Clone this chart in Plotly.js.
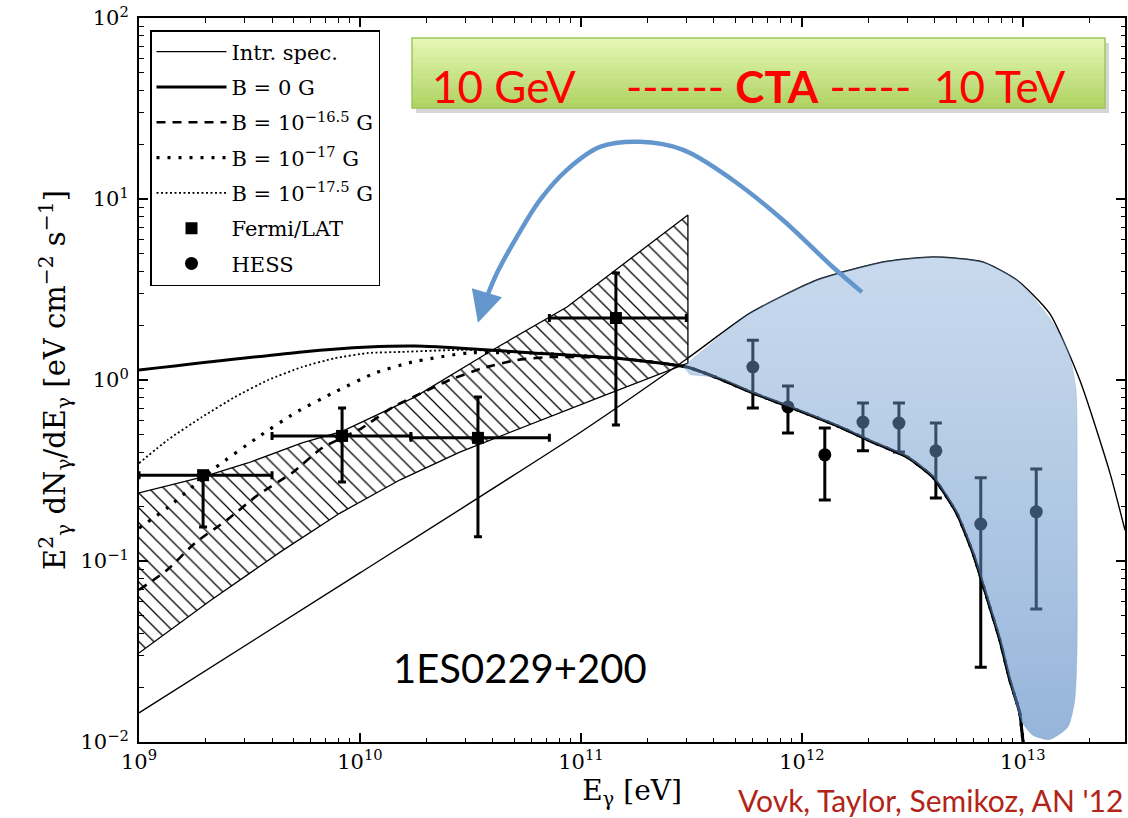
<!DOCTYPE html>
<html><head><meta charset="utf-8">
<script src="https://cdn.plot.ly/plotly-3.0.1.min.js"></script>
<style>html,body{margin:0;padding:0;background:#fff}#plot{width:1128px;height:818px}</style>
</head><body><div id="plot"></div>
<script>
// ---------------- data ----------------
const intrE = [1e9, 1e10, 1e11, 3.02e11, 5.82e11, 1.17e12, 2.33e12, 3.92e12, 6.59e12, 9.4e12, 1.32e13, 1.81e13, 2.48e13, 2.9e13];
const intrF = [0.0145, 0.0859, 0.516, 1.31, 2.34, 3.57, 4.49, 4.78, 4.49, 3.57, 2.34, 1.0, 0.306, 0.148];

const bandUpperE = [1e9, 1.93e9, 3.11e9, 5.47e9, 8.3e9, 1.77e10, 4.0e10, 8.65e10, 3.05e11];
const bandUpperF = [0.238, 0.291, 0.348, 0.449, 0.52, 0.805, 1.47, 2.53, 8.17];
const bandLowerE = [1e9, 2.09e9, 4.35e9, 8.13e9, 1.52e10, 2.83e10, 5.3e10, 1.22e11, 3.05e11];
const bandLowerF = [0.031, 0.0601, 0.112, 0.184, 0.281, 0.400, 0.543, 0.805, 1.24];

// common high-energy part of the cascade curves
const tailE = [4.12e11, 6.0e11, 8.83e11, 1.49e12, 2.09e12, 2.99e12, 3.92e12, 5.02e12, 5.94e12, 6.87e12, 7.87e12, 8.73e12, 9.68e12, 1.0e13, 1.02e13];
const tailF = [1.03, 0.848, 0.709, 0.550, 0.454, 0.376, 0.291, 0.184, 0.111, 0.0632, 0.0366, 0.0220, 0.0145, 0.0103, 0.009];

const b0E = [1e9, 5.47e9, 1.09e10, 1.77e10, 3.38e10, 6.07e10, 1.46e11, 3.02e11];
const b0F = [1.135, 1.43, 1.52, 1.54, 1.48, 1.41, 1.32, 1.18];
const b165E = [1e9, 1.34e9, 1.79e9, 2.5e9, 3.45e9, 4.92e9, 6.73e9, 1.02e10, 1.41e10, 2.55e10, 3.61e10, 5.13e10, 7.24e10, 1.46e11, 3.02e11];
const b165F = [0.0692, 0.0891, 0.1256, 0.1685, 0.2317, 0.306, 0.421, 0.543, 0.709, 1.0, 1.165, 1.29, 1.34, 1.32, 1.18];
const b17E = [1e9, 1.34e9, 2.21e9, 3.42e9, 5.08e9, 7.71e9, 1.17e10, 1.72e10, 3.05e10, 6.07e10, 1.46e11, 3.02e11];
const b17F = [0.152, 0.196, 0.327, 0.479, 0.658, 0.859, 1.094, 1.256, 1.41, 1.41, 1.32, 1.18];
const b175E = [1e9, 1.35e9, 1.93e9, 2.72e9, 3.84e9, 5.47e9, 7.71e9, 1.09e10, 1.55e10, 3.05e10, 6.07e10, 1.46e11, 3.02e11];
const b175F = [0.347, 0.467, 0.625, 0.806, 1.0, 1.18, 1.32, 1.41, 1.43, 1.47, 1.41, 1.32, 1.18];

const fermiE = [1.95e9, 8.3e9, 3.42e10, 1.44e11];
const fermiElo = [1e9, 4.0e9, 1.7e10, 7.2e10];
const fermiEhi = [4.0e9, 1.7e10, 7.2e10, 3.0e11];
const fermiF = [0.298, 0.491, 0.479, 2.2];
const fermiFlo = [0.154, 0.273, 0.136, 0.564];
const fermiFhi = [0.298, 0.70, 0.805, 3.9];

const hessE = [6.0e11, 8.65e11, 1.27e12, 1.89e12, 2.75e12, 4.04e12, 6.45e12, 1.15e13];
const hessF = [1.18, 0.71, 0.386, 0.586, 0.578, 0.406, 0.160, 0.187];
const hessFlo = [0.70, 0.509, 0.217, 0.406, 0.400, 0.223, 0.0259, 0.0543];
const hessFhi = [1.66, 0.927, 0.543, 0.746, 0.746, 0.578, 0.288, 0.322];

// CTA highlight region (overlay drawn on the original figure)
const blobE = [2.90e11, 5.82e11, 1.17e12, 2.33e12, 3.92e12, 6.59e12, 9.4e12, 1.32e13, 1.60e13, 1.74e13, 1.76e13, 1.76e13, 1.72e13, 1.60e13, 1.32e13, 1.11e13, 9.9e12,
               8.73e12, 7.87e12, 6.87e12, 5.94e12, 5.02e12, 3.92e12, 2.99e12, 2.09e12, 1.49e12, 8.83e11, 6.0e11, 4.12e11, 3.11e11];
const blobF = [1.18, 2.34, 3.57, 4.49, 4.78, 4.49, 3.57, 2.2, 1.47, 0.881, 0.217, 0.0322, 0.0171, 0.0121, 0.0103, 0.0109, 0.0129,
               0.0220, 0.0366, 0.0632, 0.111, 0.184, 0.291, 0.376, 0.454, 0.550, 0.709, 0.848, 1.03, 1.07];

// curved arrow
const arrowE = [1.87e12, 1.38e12, 8.2e11, 4.88e11, 2.90e11, 1.85e11, 1.22e11, 8.65e10, 6.52e10, 5.13e10, 4.17e10, 3.56e10];
const arrowF = [3.06, 4.21, 7.66, 12.7, 18.7, 20.7, 19.4, 14.5, 9.86, 6.17, 3.90, 2.44];
const arrowHeadE = 3.42e10, arrowHeadF = 2.07;

const legendNames = ['Intr. spec.', 'B = 0 G', 'B = 10<sup>−16.5</sup> G', 'B = 10<sup>−17</sup> G', 'B = 10<sup>−17.5</sup> G', 'Fermi/LAT', 'HESS'];

const xTickVals = [1e9, 1e10, 1e11, 1e12, 1e13];
const xTickText = ['10<sup>9</sup>', '10<sup>10</sup>', '10<sup>11</sup>', '10<sup>12</sup>', '10<sup>13</sup>'];
const yTickVals = [0.01, 0.1, 1, 10, 100];
const yTickText = ['10<sup>−2</sup>', '10<sup>−1</sup>', '10<sup>0</sup>', '10<sup>1</sup>', '10<sup>2</sup>'];

// ---------------- helpers ----------------
const L = 139, R = 1125, T = 18, Bt = 742;
const px = x => (x - L) / (R - L);
const py = y => (Bt - y) / (Bt - T);
const sub = (a, b) => a.map((v, i) => v - b[i]);

const serif = 'DejaVu Serif';
const traces = [];

// hatched Fermi butterfly
traces.push({
  type: 'scatter', mode: 'lines',
  x: bandUpperE.concat(bandLowerE.slice().reverse()),
  y: bandUpperF.concat(bandLowerF.slice().reverse()),
  fill: 'toself', fillcolor: 'rgba(0,0,0,0)',
  fillpattern: {shape: '\\', fgcolor: '#000', bgcolor: 'rgba(0,0,0,0)', size: 10.5, solidity: 0.12, fillmode: 'replace'},
  line: {color: '#000', width: 1.3}, showlegend: false, hoverinfo: 'skip'
});

const lg = (i) => ({legendgroup: 'g' + i, name: legendNames[i]});

traces.push(Object.assign({type: 'scatter', mode: 'lines', x: intrE, y: intrF,
  line: {color: '#000', width: 1.4, shape: 'spline', smoothing: 0.6}}, lg(0)));
traces.push(Object.assign({type: 'scatter', mode: 'lines', x: b0E.concat(tailE), y: b0F.concat(tailF),
  line: {color: '#000', width: 3, shape: 'spline', smoothing: 0.5}}, lg(1)));
traces.push(Object.assign({type: 'scatter', mode: 'lines', x: b165E.concat(tailE), y: b165F.concat(tailF),
  line: {color: '#000', width: 2.6, dash: '9px,7px', shape: 'spline', smoothing: 0.5}}, lg(2)));
traces.push(Object.assign({type: 'scatter', mode: 'lines', x: b17E.concat(tailE), y: b17F.concat(tailF),
  line: {color: '#000', width: 3.2, dash: '3px,8px', shape: 'spline', smoothing: 0.5}}, lg(3)));
traces.push(Object.assign({type: 'scatter', mode: 'lines', x: b175E.concat(tailE), y: b175F.concat(tailF),
  line: {color: '#000', width: 1.8, dash: '2px,2.5px', shape: 'spline', smoothing: 0.5}}, lg(4)));

traces.push(Object.assign({type: 'scatter', mode: 'markers', x: fermiE, y: fermiF,
  marker: {symbol: 'square', size: 12, color: '#000'},
  error_x: {type: 'data', symmetric: false, array: sub(fermiEhi, fermiE), arrayminus: sub(fermiE, fermiElo), color: '#000', thickness: 3, width: 4},
  error_y: {type: 'data', symmetric: false, array: sub(fermiFhi, fermiF), arrayminus: sub(fermiF, fermiFlo), color: '#000', thickness: 3, width: 4}
}, lg(5)));
traces.push(Object.assign({type: 'scatter', mode: 'markers', x: hessE, y: hessF,
  marker: {symbol: 'circle', size: 13, color: '#000'},
  error_y: {type: 'data', symmetric: false, array: sub(hessFhi, hessF), arrayminus: sub(hessF, hessFlo), color: '#000', thickness: 3, width: 6}
}, lg(6)));

// blue CTA region
traces.push({type: 'scatter', mode: 'lines', x: blobE, y: blobF, fill: 'toself',
  line: {width: 0.5, color: 'rgba(90,130,180,0.5)', shape: 'spline', smoothing: 0.6},
  fillgradient: {type: 'vertical', colorscale: [[0, 'rgba(85,135,195,0.62)'], [1, 'rgba(125,165,212,0.42)']]},
  showlegend: false, hoverinfo: 'skip'});

// arrow body
traces.push({type: 'scatter', mode: 'lines', x: arrowE, y: arrowF,
  line: {color: 'rgb(98,150,204)', width: 4.5, shape: 'spline', smoothing: 1},
  showlegend: false, hoverinfo: 'skip'});

// ---------------- decorations ----------------
const shapes = [];
const boxL = 412, boxR = 1105, boxT = 38, boxB = 108;
shapes.push({type: 'rect', xref: 'paper', yref: 'paper', x0: px(boxL + 4), x1: px(boxR + 4), y0: py(boxB + 5), y1: py(boxT + 5),
  fillcolor: 'rgba(0,0,0,0.16)', line: {width: 0}, layer: 'above'});
const nStrip = 14, c0 = [228, 247, 180], c1 = [176, 211, 100];
for (let i = 0; i < nStrip; i++) {
  const t = i / (nStrip - 1);
  const c = c0.map((v, k) => Math.round(v + (c1[k] - v) * t));
  const y0 = boxT + (boxB - boxT) * i / nStrip, y1 = boxT + (boxB - boxT) * (i + 1) / nStrip;
  shapes.push({type: 'rect', xref: 'paper', yref: 'paper', x0: px(boxL), x1: px(boxR), y0: py(y1 + 0.5), y1: py(y0),
    fillcolor: `rgb(${c[0]},${c[1]},${c[2]})`, line: {width: 0}, layer: 'above'});
}
shapes.push({type: 'rect', xref: 'paper', yref: 'paper', x0: px(boxL), x1: px(boxR), y0: py(boxB), y1: py(boxT),
  fillcolor: 'rgba(0,0,0,0)', line: {width: 1.5, color: 'rgb(160,198,92)'}, layer: 'above'});

const red = 'rgb(255,0,0)';
const annotations = [
  {xref: 'paper', yref: 'paper', x: px(504), y: py(86), text: '10 GeV', showarrow: false, xanchor: 'center', yanchor: 'middle',
    font: {family: 'Lato', size: 44, color: red}},
  {xref: 'paper', yref: 'paper', x: px(768), y: py(86), text: '------ <b>CTA</b> -----', showarrow: false, xanchor: 'center', yanchor: 'middle',
    font: {family: 'Lato', size: 44, color: red}},
  {xref: 'paper', yref: 'paper', x: px(1000), y: py(86), text: '10 TeV', showarrow: false, xanchor: 'center', yanchor: 'middle',
    font: {family: 'Lato', size: 44, color: red}},
  {xref: 'paper', yref: 'paper', x: px(520), y: py(668), text: '1ES0229+200', showarrow: false, xanchor: 'center', yanchor: 'middle',
    font: {family: 'Lato', size: 40, color: '#000'}},
  {xref: 'paper', yref: 'paper', x: px(930), y: py(800), text: "Vovk, Taylor, Semikoz, AN '12", showarrow: false, xanchor: 'center', yanchor: 'middle',
    font: {family: 'Lato', size: 30, color: 'rgb(178,36,24)'}},
  {xref: 'x', yref: 'y', axref: 'x', ayref: 'y',
    x: Math.log10(arrowHeadE), y: Math.log10(arrowHeadF),
    ax: Math.log10(arrowE[arrowE.length - 1]), ay: Math.log10(arrowF[arrowF.length - 1]),
    text: '', showarrow: true, arrowhead: 2, arrowsize: 1.4, arrowwidth: 4.5, arrowcolor: 'rgb(98,150,204)', standoff: 0}
];

const axisCommon = {
  type: 'log',
  ticks: 'inside', ticklen: 9, tickwidth: 1.5, tickcolor: '#000',
  minor: {ticks: 'inside', ticklen: 4.5, tickwidth: 1, tickcolor: '#000', dtick: 'D1'},
  showline: true, linewidth: 2, linecolor: '#000', mirror: 'allticks',
  showgrid: false, zeroline: false,
  tickfont: {family: serif, size: 21, color: '#000'}
};

const layout = {
  width: 1128, height: 818,
  margin: {l: L, r: 1128 - R, t: T, b: 818 - Bt},
  paper_bgcolor: '#fff', plot_bgcolor: '#fff',
  xaxis: Object.assign({}, axisCommon, {range: [9, Math.log10(2.9e13)], tickmode: 'array', tickvals: xTickVals, ticktext: xTickText,
    title: {text: 'E<sub>γ</sub> [eV]', font: {family: serif, size: 28, color: '#000'}, standoff: 6}}),
  yaxis: Object.assign({}, axisCommon, {range: [-2, 2.0002], tickmode: 'array', tickvals: yTickVals, ticktext: yTickText, ticklabelstandoff: 4,
    title: {text: 'E<sup>2</sup><sub>γ</sub> dN<sub>γ</sub>/dE<sub>γ</sub> [eV cm<sup>−2</sup> s<sup>−1</sup>]', font: {family: serif, size: 29, color: '#000'}, standoff: 6}}),
  showlegend: true,
  legend: {x: px(150), y: py(30), xanchor: 'left', yanchor: 'top', bgcolor: '#fff', bordercolor: '#000', borderwidth: 1.5,
    font: {family: serif, size: 21, color: '#000'}, tracegroupgap: 5, traceorder: 'grouped', itemwidth: 70},
  shapes: shapes, annotations: annotations
};

Plotly.newPlot('plot', traces, layout, {displayModeBar: false, staticPlot: true});
</script></body></html>
